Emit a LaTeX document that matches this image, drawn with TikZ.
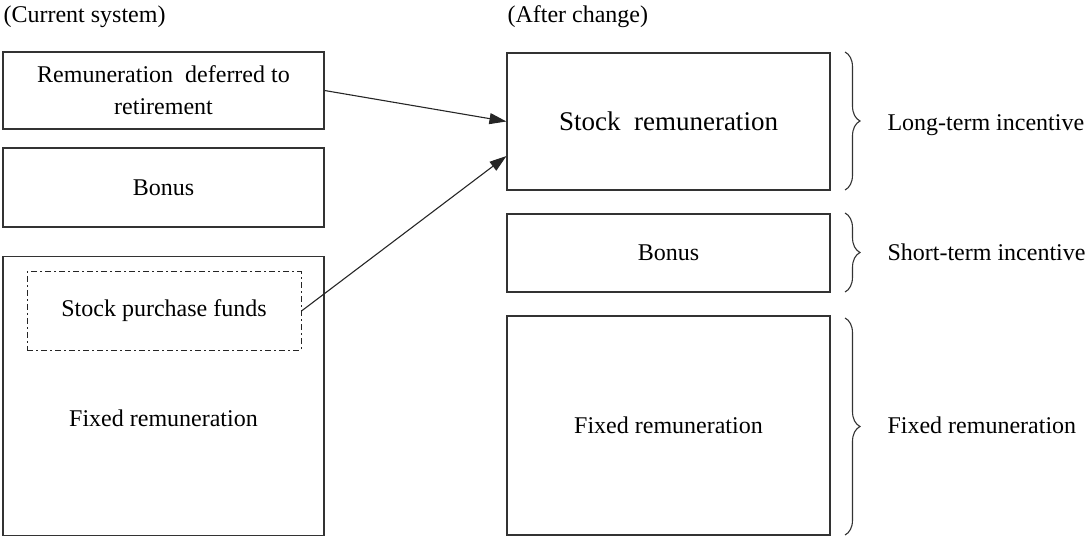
\documentclass[tikz,border=0pt]{standalone}
\usepackage{fontspec}
\setmainfont{Liberation Serif}
\usetikzlibrary{arrows.meta,calc,decorations.pathreplacing}
\begin{document}
\begin{tikzpicture}[x=1pt,y=-1pt,line width=1.1pt,>={Triangle[length=17pt,width=11pt]},
	box/.style={draw=black!80,inner sep=0pt,align=center,font=\fontsize{24}{32}\selectfont},
	txt/.style={inner sep=0pt,font=\fontsize{24}{32}\selectfont},
	dashdot/.style={draw=black!85,line width=1pt,dash pattern=on 6pt off 3pt on 2pt off 3pt},
	rbrace/.style={draw=black!80,decorate,decoration={brace,amplitude=15pt}}]
		\useasboundingbox (0,0) rectangle (1087,537);
		\node[txt,anchor=west] (current) at (3,17) {(Current system)};
		\node[txt,anchor=west] (after) at (507,17) {(After change)};
		\node[box,minimum width=321pt,minimum height=77pt] (deferred) at (163.5,90.5) {Remuneration\ \ deferred to\\retirement};
		\node[box,minimum width=321pt,minimum height=79pt] (bonusold) at (163.5,187.5) {Bonus};
		\node[box,minimum width=321pt,minimum height=279pt] (fixedold) at (163.5,396) {};
		\node[box,dashdot,minimum width=274pt,minimum height=78pt] (purchase) at (164,311) {Stock purchase funds};
		\node[txt] (fixedoldtext) at (163.5,418) {Fixed remuneration};
		\node[box,minimum width=323pt,minimum height=137pt,font=\fontsize{27}{32}\selectfont] (stock) at (668.5,121.5) {Stock\ \ remuneration};
		\node[box,minimum width=323pt,minimum height=78pt] (bonusnew) at (668.5,253) {Bonus};
		\node[box,minimum width=323pt,minimum height=219pt] (fixednew) at (668.5,425.5) {Fixed remuneration};
		\draw[->,draw=black!85] (deferred.east) -- (stock.west);
		\draw[->,draw=black!85] (purchase.east) -- ($(stock.west)!0.5!(stock.south west)$);
		\draw[rbrace] (845,52) -- (845,190);
		\draw[rbrace] (845,213) -- (845,292);
		\draw[rbrace] (845,318) -- (845,535);
		\node[txt,anchor=west] (longterm) at (887,125) {Long-term incentive};
		\node[txt,anchor=west] (shortterm) at (887,252) {Short-term incentive};
		\node[txt,anchor=west] (fixedlabel) at (887,425) {Fixed remuneration};
\end{tikzpicture}
\end{document}
